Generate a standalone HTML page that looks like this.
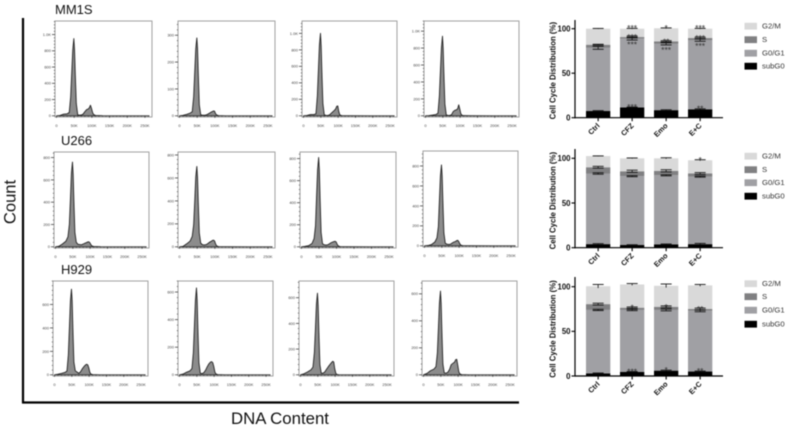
<!DOCTYPE html>
<html>
<head>
<meta charset="utf-8">
<title>Cell cycle figure</title>
<style>
html,body{margin:0;padding:0;background:#fff;width:788px;height:428px;overflow:hidden}
svg{display:block;filter:blur(0.45px)}
text{font-family:"Liberation Sans",Arial,sans-serif}
</style>
</head>
<body>
<svg id="fig" xmlns="http://www.w3.org/2000/svg" width="788" height="428" viewBox="0 0 788 428">
  <line x1="23" y1="18" x2="23" y2="403" stroke="#000" stroke-width="2.2"/>
  <line x1="22" y1="402.5" x2="519" y2="402.5" stroke="#000" stroke-width="2.2"/>
  <text transform="translate(15.5,202) rotate(-90)" text-anchor="middle" font-size="16.6" fill="#111">Count</text>
  <text x="280" y="424" text-anchor="middle" font-size="16.8" fill="#111">DNA Content</text>
  <text x="55" y="14" font-size="13" fill="#111">MM1S</text>
  <text x="61" y="145" font-size="13" fill="#111">U266</text>
  <text x="61" y="274" font-size="13" fill="#111">H929</text>
  <g id="hists"></g>
  <g id="bars"></g>
</svg>
<script>
// ---------- histogram data ----------
const dnaK = [0,10,20,30,36,40,43,46,49,51,53,56,60,65,70,75,80,85,90,93,96,99,102,105,110,130,200,262];
const xTickK = [0,50,100,150,200,250];
const xTickText = ['0','50K','100K','150K','200K','250K'];

const r1p1 = [0,5,20,25,40,230,520,810,950,810,520,150,12,8,10,20,50,75,85,100,130,90,40,15,5,2,0,0];
const r1p2 = [0,2,5,10,15,70,160,250,290,250,160,40,4,2,2,3,6,10,14,16,18,17,8,3,1,0,0,0];
const r1p3 = [0,4,15,15,25,240,550,860,1000,850,540,150,12,5,5,10,30,50,70,85,115,120,50,10,3,1,0,0];
const r1p4 = [0,2,8,15,30,230,520,800,940,800,510,140,10,4,4,12,50,65,72,85,130,80,25,8,2,1,0,0];
const r2p1 = [0,5,25,50,90,200,420,660,760,650,420,130,40,22,20,18,25,32,38,44,45,38,20,8,3,1,0,0];
const r2p2 = [0,4,25,50,90,190,390,610,700,600,390,120,32,18,16,18,28,40,48,55,58,52,25,8,2,1,0,0];
const r2p3 = [0,4,10,30,75,190,450,700,810,700,450,130,28,18,16,18,28,38,44,48,50,44,22,8,2,1,0,0];
const r2p4 = [0,3,12,38,80,190,450,700,810,700,450,130,26,16,14,16,28,38,44,52,55,42,20,6,2,1,0,0];
const r3p1 = [0,5,12,20,32,170,400,630,730,630,400,110,34,24,12,25,50,70,85,90,85,60,22,6,2,0,0,0];
const r3p2 = [0,5,18,28,45,160,350,540,630,540,340,90,12,8,15,32,58,80,93,95,88,60,22,6,2,0,0,0];
const r3p3 = [0,8,22,38,60,170,350,550,635,540,340,80,12,12,22,42,62,80,96,105,100,45,12,3,1,0,0,0];
const r3p4 = [0,10,30,42,60,160,340,530,620,530,330,80,14,12,18,38,75,85,95,112,115,70,22,6,2,0,0,0];
const histSeries = [r1p1,r1p2,r1p3,r1p4,r2p1,r2p2,r2p3,r2p4,r3p1,r3p2,r3p3,r3p4];

const yMaxes = [1167,353,1150,1120,850,826,860,950,800,680,730,695];
const ticks1k = [0,200,400,600,800,1000];
const ticks300 = [0,100,200,300];
const ticks800 = [0,200,400,600,800];
const ticks600 = [0,200,400,600];
const histTicks = [ticks1k,ticks300,ticks1k,ticks1k,ticks800,ticks800,ticks800,ticks800,ticks600,ticks600,ticks600,ticks600];

// ---------- bar chart data ----------
const barCats = ['Ctrl','CFZ','Emo','E+C'];
const barTicks = [0,50,100];
const legendNames = ['G2/M','S','G0/G1','subG0'];

const c1Sub = [7.5,11.5,8.5,9.5];
const c1G0 = [71,77.3,74.5,77.8];
const c1S = [3.5,1.8,2.8,2.2];
const c1G2 = [18,9.4,14.7,10.5];
const c2Sub = [4,3,3.8,4];
const c2G0 = [79,77,77.2,75.5];
const c2S = [7,5.5,5,3.5];
const c2G2 = [12.5,14.5,14,14.8];
const c3Sub = [3,4.5,6,5];
const c3G0 = [71,69.5,68,68];
const c3S = [6.5,2.5,3.5,2];
const c3G2 = [20,26,23.5,26.5];

const c1Err = [[0.4,0.5,0.4,0.5],[1.6,1.5,1.2,1.4],[0.5,1,0.7,0.9],[0.3,0.4,0.4,0.4]];
const c2Err = [[0.5,0.3,0.4,0.8],[0.8,0.6,0.6,0.6],[1,1.2,1.2,1],[0.2,0.4,0.6,0.6]];
const c3Err = [[0.4,0.5,0.5,0.5],[0.7,0.8,1,1],[1,0.8,1,1],[2,1,2,1]];

const c1Stars = [['','***','','**'],['','***','***','***'],['','***','**','***'],['','***','*','***']];
const c2Stars = [['','','',''],['','','',''],['','','',''],['','','','*']];
const c3Stars = [['','***','*','**'],['','','',''],['','*','*','**'],['','','','']];

// ---------- drawing ----------
const NS = 'http://www.w3.org/2000/svg';
function mk(tag, props, parent, txt){
  const el = document.createElementNS(NS, tag);
  for (const k in props) el.setAttribute(k, props[k]);
  if (txt !== undefined) el.textContent = txt;
  parent.appendChild(el);
  return el;
}

const histBoxes = [
  [55,21,152,117],[178,21,275,117],[302,21,397,117],[424,21,519,117],
  [54,152,149,248],[178,152,275,248],[300,152,396,248],[423,151,518,247],
  [53,281,148,376],[178,281,273,376],[299,281,394,376],[422,281,517,376]
];
const histHost = document.getElementById('hists');
histSeries.forEach((vals, i) => {
  const b = histBoxes[i];
  const left = b[0], top = b[1], right = b[2], bottom = b[3];
  const base = bottom - 1.2;
  const xS = k => left + 1.5 + k * (right - left - 1.5) / 270;
  const yS = v => base - v * (base - top) / yMaxes[i];
  const g = mk('g', {}, histHost);
  
  

  const box = mk('rect', {x:left, y:top, width:right-left, height:bottom-top, fill:'#fff', stroke:'#a0a0a0', 'stroke-width':1}, g);
  
  

  let d = 'M' + xS(dnaK[0]) + ' ' + yS(0);
  dnaK.forEach((k, j) => { d += ' L' + xS(k).toFixed(2) + ' ' + yS(vals[j]).toFixed(2); });
  d += ' L' + xS(dnaK[dnaK.length - 1]) + ' ' + yS(0) + ' Z';
  const area = mk('path', {d:d, fill:'#8c8c8c', stroke:'#222', 'stroke-width':0.9, 'stroke-linejoin':'round'}, g);
  
  

  const lastTick = histTicks[i][histTicks[i].length - 1];
  const minorStep = lastTick / (histTicks[i].length - 1) / 5;
  for (let v = 0; yS(v) >= top; v += minorStep) {
    const major = histTicks[i].indexOf(Math.round(v)) >= 0;
    const t = mk('line', {x1:left - (major ? 3 : 1.2), x2:left, y1:yS(v), y2:yS(v), stroke:'#444', 'stroke-width':major ? 0.8 : 0.6}, g);
    
    
  }
  histTicks[i].forEach(v => {
    const label = v >= 1000 ? (v / 1000).toFixed(1) + 'K' : String(v);
    const t = mk('text', {x:left - 4, y:yS(v) + 1.4, 'text-anchor':'end', 'font-size':4, fill:'#444'}, g, label);
    
    
  });
  for (let k = 0; k <= 260; k += 10) {
    const major = k % 50 === 0;
    const t = mk('line', {x1:xS(k), x2:xS(k), y1:base, y2:base + (major ? 2 : 1), stroke:'#333', 'stroke-width':major ? 0.8 : 0.6}, g);
    
    
  }
  xTickK.forEach((k, j) => {
    const t = mk('text', {x:xS(k), y:bottom + 10, 'text-anchor':'middle', 'font-size':4, fill:'#444'}, g, xTickText[j]);
    
    
  });
});

const fills = {sub:'#000000', g0:'#a0a0a4', s:'#808082', g2:'#d9d9d9'};
const charts = [
  {sub:c1Sub, g0:c1G0, s:c1S, g2:c1G2, err:c1Err, stars:c1Stars, base:117.7, top:20, u:0.89, legendY:[26,39.5,53,66]},
  {sub:c2Sub, g0:c2G0, s:c2S, g2:c2G2, err:c2Err, stars:c2Stars, base:247.7, top:149, u:0.894, legendY:[156,169.5,182.5,196]},
  {sub:c3Sub, g0:c3G0, s:c3S, g2:c3G2, err:c3Err, stars:c3Stars, base:376, top:277, u:0.893, legendY:[283.5,296.5,310,324]}
];
const barHost = document.getElementById('bars');
const barLefts = [586, 620, 654, 688];
const barW = 24.3;
charts.forEach((c, ci) => {
  const g = mk('g', {}, barHost);
  
  
  const yS = v => c.base - v * c.u;

  barCats.forEach((cat, i) => {
    const x = barLefts[i];
    const cx = x + barW / 2;
    const levels = [c.sub[i], c.sub[i] + c.g0[i], c.sub[i] + c.g0[i] + c.s[i], c.sub[i] + c.g0[i] + c.s[i] + c.g2[i]];
    const keys = ['sub','g0','s','g2'];
    keys.forEach((k, l) => {
      const lo = l === 0 ? 0 : levels[l - 1];
      const r = mk('rect', {x:x, y:yS(levels[l]), width:barW, height:(levels[l] - lo) * c.u, fill:fills[k]}, g);
      
      
    });
    levels.forEach((lv, l) => {
      const e = c.err[l][i];
      const hi = yS(lv + e), lo = yS(lv - e);
      const w = mk('line', {x1:cx, x2:cx, y1:hi, y2:lo, stroke:'#111', 'stroke-width':0.8}, g);
      
      
      const capA = mk('line', {x1:cx - 5.5, x2:cx + 5.5, y1:hi, y2:hi, stroke:'#111', 'stroke-width':0.9}, g);
      
      
      if (l < 3 && l > 0) {
        const capB = mk('line', {x1:cx - 5.5, x2:cx + 5.5, y1:lo, y2:lo, stroke:'#111', 'stroke-width':0.9}, g);
        
        
      }
      const star = c.stars[l][i];
      if (star) {
        const dy = [2.5, 9, 3, 2.5][l];
        const t = mk('text', {x:cx, y:yS(lv) + dy, 'text-anchor':'middle', 'font-size':8.5, fill:'#333'}, g, star);
        
        
      }
    });
    const tk = mk('line', {x1:cx, x2:cx, y1:c.base, y2:c.base + 3.5, stroke:'#000', 'stroke-width':1.1}, g);
    
    
    const lb = mk('text', {transform:'translate(' + (cx + 2) + ',' + (c.base + 8.5) + ') rotate(-45)', 'text-anchor':'end', 'font-size':7.4, 'font-weight':'bold', fill:'#111'}, g, cat);
    
    
  });

  const ax = 575;
  const yAxis = mk('line', {x1:ax, x2:ax, y1:c.top, y2:c.base + 0.6, stroke:'#000', 'stroke-width':1.2}, g);
  
  
  const xAxis = mk('line', {x1:ax, x2:723, y1:c.base, y2:c.base, stroke:'#000', 'stroke-width':1.2}, g);
  
  
  barTicks.forEach(v => {
    const t = mk('line', {x1:ax - 3.5, x2:ax, y1:yS(v), y2:yS(v), stroke:'#000', 'stroke-width':1.1}, g);
    
    
    const l = mk('text', {x:ax - 4.5, y:yS(v) + 2.8, 'text-anchor':'end', 'font-size':7.8, 'font-weight':'bold', fill:'#111'}, g, String(v));
    
    
  });
  const title = mk('text', {transform:'translate(555.5,' + (c.base - 47) + ') rotate(-90)', 'text-anchor':'middle', 'font-size':7.8, 'font-weight':'bold', fill:'#111'}, g, 'Cell Cycle Distribution (%)');
  
  

  legendNames.forEach((nm, l) => {
    const y = c.legendY[l];
    const sw = mk('rect', {x:744.5, y:y - 3.2, width:12.5, height:6.8, fill:[fills.g2, fills.s, fills.g0, fills.sub][l]}, g);
    
    
    const t = mk('text', {x:762, y:y + 2.7, 'font-size':7.7, fill:'#333'}, g, nm);
    
    
  });
});
</script>
</body>
</html>
